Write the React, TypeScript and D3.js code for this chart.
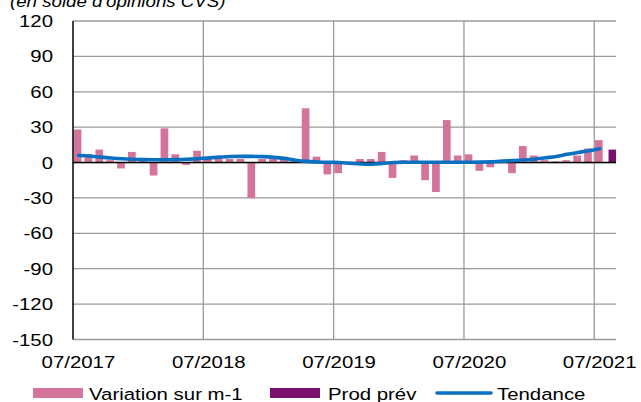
import React from "react";
import * as d3 from "d3";

// Categories: monthly from 07/2017 to 08/2021
const months: string[] = (() => {
  const out: string[] = [];
  let m = 7, y = 2017;
  for (let i = 0; i < 50; i++) {
    out.push(`${String(m).padStart(2, "0")}/${y}`);
    m++;
    if (m > 12) { m = 1; y++; }
  }
  return out;
})();

const variation: (number | null)[] = [
  28, 7, 11, 2, -5, 9, 2, -11, 29, 7, -2, 10,
  3, 3, 3, 3, -30, 3, 3, 5, 1, 46, 5, -10,
  -9, -1, 3, 3, 9, -13, 2, 6, -15, -25, 36, 6,
  7, -7, -4, 0, -9, 14, 6, 2, 1, 2, 6, 12,
  19, null,
];

const prodPrev: (number | null)[] = [
  ...Array(49).fill(null), 11,
];

const tendance: (number | null)[] = [
  6, 5.5, 4.6, 3.8, 3.2, 2.8, 2.5, 2.4, 2.4, 2.5, 2.8, 3.2,
  4, 4.6, 5.1, 5.2, 5.2, 5, 4.4, 3.4, 2, 1, 0.5, 0.2,
  0, -0.6, -1.2, -1.4, -0.8, 0, 0.3, 0.3, 0.3, 0.3, 0.3, 0.3,
  0.3, 0.4, 0.6, 1.2, 1.6, 2.2, 2.8, 4, 5.2, 7, 8.6, 10,
  11.7, null,
];

const yTicks = [120, 90, 60, 30, 0, -30, -60, -90, -120, -150];
const xTickLabels = ["07/2017", "07/2018", "07/2019", "07/2020", "07/2021"];

const PINK = "#D5749B";
const PURPLE = "#7A0F6E";
const BLUE = "#0A70C2";
const GRID = "#9a9a9a";
const FONT = "Arial, 'Liberation Sans', sans-serif";

function T({ x, y, anchor = "start", children, italic = false, sx = 1.2 }: any) {
  return (
    <text
      transform={`translate(${x},${y}) scale(${sx},1)`}
      textAnchor={anchor}
      fontFamily={FONT}
      fontSize={17}
      fontStyle={italic ? "italic" : "normal"}
      fill="#000"
    >
      {children}
    </text>
  );
}

export default function App() {
  const W = 641, H = 402;
  const x = d3.scaleBand<string>().domain(months).range([73, 616]).padding(0);
  const y = d3.scaleLinear().domain([-150, 120]).range([339.5, 21]);
  const bw = x.bandwidth();

  const line = d3
    .line<number | null>()
    .defined((d) => d !== null)
    .x((_, i) => (x(months[i]) as number) + bw / 2)
    .y((d) => y(d as number))
    .curve(d3.curveMonotoneX);

  return (
    <svg
      width={W}
      height={H}
      style={{ position: "absolute", left: 0, top: 0, background: "#fff" }}
    >
      {/* title */}
      <T x={10} y={7} italic sx={1.1}>(en solde d'opinions CVS)</T>

      {/* horizontal gridlines */}
      {yTicks.map((t) => (
        <line key={"h" + t} x1={73} x2={616} y1={y(t)} y2={y(t)} stroke={GRID} strokeWidth={1.3} />
      ))}
      {/* vertical gridlines */}
      {xTickLabels.slice(1).map((lab) => (
        <line
          key={"v" + lab}
          x1={x(lab) as number}
          x2={x(lab) as number}
          y1={y(120)}
          y2={y(-150)}
          stroke={GRID}
          strokeWidth={1.3}
        />
      ))}

      {/* bars: variation */}
      {variation.map((v, i) =>
        v === null ? null : (
          <rect
            key={"b" + i}
            x={(x(months[i]) as number) + 0.7}
            y={Math.min(y(v), y(0))}
            width={7.7}
            height={Math.abs(y(v) - y(0))}
            fill={PINK}
          />
        )
      )}
      {/* bars: prod prev */}
      {prodPrev.map((v, i) =>
        v === null ? null : (
          <rect
            key={"p" + i}
            x={(x(months[i]) as number) + 3.4}
            y={Math.min(y(v), y(0))}
            width={7.5}
            height={Math.abs(y(v) - y(0))}
            fill={PURPLE}
          />
        )
      )}

      {/* zero line and left axis */}
      <line x1={73} x2={616} y1={y(0)} y2={y(0)} stroke="#000" strokeWidth={1.5} />
      <line x1={73} x2={73} y1={y(120)} y2={y(-150)} stroke="#000" strokeWidth={1.5} />

      {/* trend */}
      <path d={line(tendance) || ""} fill="none" stroke={BLUE} strokeWidth={3.6} strokeLinecap="round" />

      {/* y tick labels */}
      {yTicks.map((t) => (
        <T key={"yl" + t} x={53} y={y(t) + 6} anchor="end">{t}</T>
      ))}
      {/* x tick labels */}
      {xTickLabels.map((lab) => (
        <T key={"xl" + lab} x={(x(lab) as number) + bw / 2} y={368} anchor="middle">{lab}</T>
      ))}

      {/* legend */}
      <rect x={33} y={388} width={50} height={10} fill={PINK} />
      <T x={89} y={400}>Variation sur m-1</T>
      <rect x={270} y={388} width={50} height={10} fill={PURPLE} />
      <T x={328} y={400}>Prod prév</T>
      <line x1={437} x2={491} y1={393} y2={393} stroke={BLUE} strokeWidth={3.5} strokeLinecap="round" />
      <T x={497} y={400}>Tendance</T>
    </svg>
  );
}
